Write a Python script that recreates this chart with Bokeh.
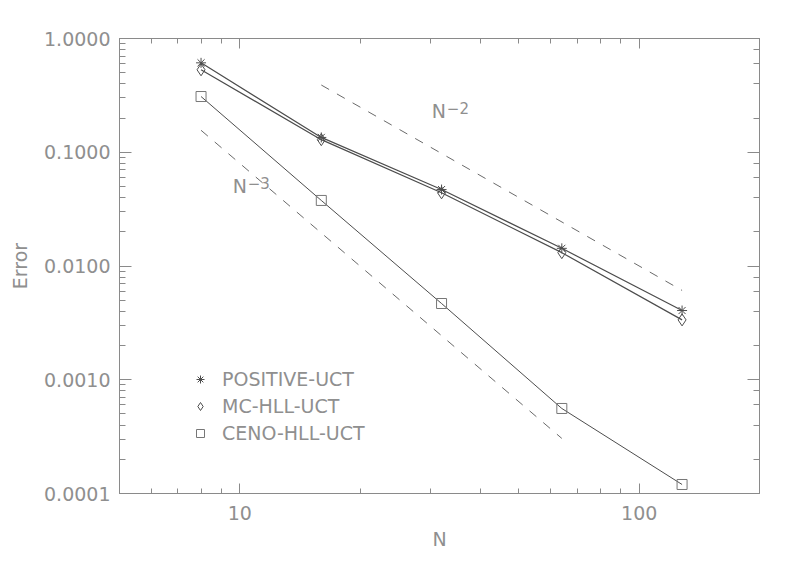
import numpy as np
from bokeh.plotting import figure
from bokeh.models import (LogAxis, LogTicker, FixedTicker, PrintfTickFormatter,
                          CustomJSTickFormatter, Legend, LegendItem, Label, Range1d)
from bokeh.embed import file_html
from bokeh.resources import INLINE

# ---- data ----
N = [8, 16, 32, 64, 128]
err_positive = [0.611, 0.135, 0.047, 0.0143, 0.00406]
err_mc = [0.531, 0.129, 0.044, 0.0131, 0.00336]
err_ceno = [0.309, 0.0377, 0.00468, 0.000559, 0.000120]

ref2_N = [16, 128]
ref2_err = [0.39, 0.0061]
ref3_N = [8, 64]
ref3_err = [0.156, 0.000305]

x_major_ticks = [10, 100]
x_minor_ticks = [5, 6, 7, 8, 9, 20, 30, 40, 50, 60, 70, 80, 90, 200]
y_tick_format = "%.4f"
x_tick_format = "%d"

FONT = "DejaVu Sans"
TXT = "#8f8f8f"
AX = "#8a8a8a"
LINE = "#4d4d4d"
DASH = "#6a6a6a"

p = figure(x_axis_type="log", y_axis_type="log",
           x_range=Range1d(5, 200), y_range=Range1d(1e-4, 1),
           frame_width=640, frame_height=455,
           min_border_left=119, min_border_top=38, min_border_right=22, min_border_bottom=50,
           output_backend="svg", toolbar_location=None,
           background_fill_color="white", border_fill_color="white")
p.grid.visible = False
p.outline_line_color = AX
p.outline_line_width = 1

xa = p.xaxis[0]
ya = p.yaxis[0]
xa.ticker = FixedTicker(ticks=x_major_ticks, minor_ticks=x_minor_ticks)
xa.formatter = PrintfTickFormatter(format=x_tick_format)
ya.formatter = PrintfTickFormatter(format=y_tick_format)
for ax, maj, mino in [(xa, 10, 5), (ya, 12, 6)]:
    ax.axis_line_color = AX
    ax.major_tick_line_color = AX
    ax.minor_tick_line_color = AX
    ax.major_tick_in = maj
    ax.major_tick_out = 0
    ax.minor_tick_in = mino
    ax.minor_tick_out = 0
    ax.major_label_text_font = FONT
    ax.major_label_text_font_size = "19px"
    ax.major_label_text_color = TXT
    ax.axis_label_text_font = FONT
    ax.axis_label_text_font_size = "19px"
    ax.axis_label_text_color = TXT
    ax.axis_label_text_font_style = "normal"
xa.major_label_standoff = 12
ya.major_label_standoff = 9
xa.axis_label = "N"
ya.axis_label = "Error"
xa.axis_label_standoff = 5
ya.axis_label_standoff = 10

blank = CustomJSTickFormatter(code="return ''")
for loc, maj, mino in [("right", 12, 6), ("above", 10, 5)]:
    if loc == "above":
        ax = LogAxis(ticker=FixedTicker(ticks=x_major_ticks, minor_ticks=x_minor_ticks),
                     formatter=blank)
    else:
        ax = LogAxis(ticker=LogTicker(), formatter=blank)
    ax.axis_line_color = AX
    ax.major_tick_line_color = AX
    ax.minor_tick_line_color = AX
    ax.major_tick_in = maj
    ax.major_tick_out = 0
    ax.minor_tick_in = mino
    ax.minor_tick_out = 0
    ax.major_label_standoff = 0
    p.add_layout(ax, loc)

# reference slopes
p.line(ref2_N, ref2_err, line_color=DASH, line_width=1, line_dash="9 9")
p.line(ref3_N, ref3_err, line_color=DASH, line_width=1, line_dash="9 9")

# data
p.line(N, err_positive, line_color=LINE, line_width=1.2)
p.line(N, err_mc, line_color=LINE, line_width=1.2)
p.line(N, err_ceno, line_color=LINE, line_width=1)
r1 = p.scatter(N, err_positive, marker="asterisk", size=10, line_color=LINE, line_width=1)
r2 = p.scatter(N, err_mc, marker="diamond", size=12, line_color=LINE, fill_color=None, line_width=1)
r3 = p.scatter(N, err_ceno, marker="square", size=10, line_color="#777777", fill_color=None, line_width=1)

legend = Legend(items=[LegendItem(label="POSITIVE-UCT", renderers=[r1]),
                       LegendItem(label="MC-HLL-UCT", renderers=[r2]),
                       LegendItem(label="CENO-HLL-UCT", renderers=[r3])],
                location=(71, 49), orientation="vertical",
                glyph_width=20, glyph_height=20, label_height=20, spacing=5,
                label_standoff=12, padding=0, margin=0,
                border_line_alpha=0, background_fill_alpha=0,
                label_text_font=FONT, label_text_font_size="19px", label_text_color=TXT)
p.add_layout(legend, "center")

# slope labels
p.add_layout(Label(x=31.5, y=0.2325, text="N", text_align="center", text_baseline="middle",
                   text_font=FONT, text_font_size="19px", text_color=TXT))
p.add_layout(Label(x=31.5, y=0.2325, text="\u22122", x_offset=8, y_offset=3,
                   text_align="left", text_baseline="middle",
                   text_font=FONT, text_font_size="15px", text_color=TXT))
p.add_layout(Label(x=10.0, y=0.051, text="N", text_align="center", text_baseline="middle",
                   text_font=FONT, text_font_size="19px", text_color=TXT))
p.add_layout(Label(x=10.0, y=0.051, text="\u22123", x_offset=8, y_offset=3,
                   text_align="left", text_baseline="middle",
                   text_font=FONT, text_font_size="15px", text_color=TXT))

open("out.html", "w").write(file_html(p, INLINE))
